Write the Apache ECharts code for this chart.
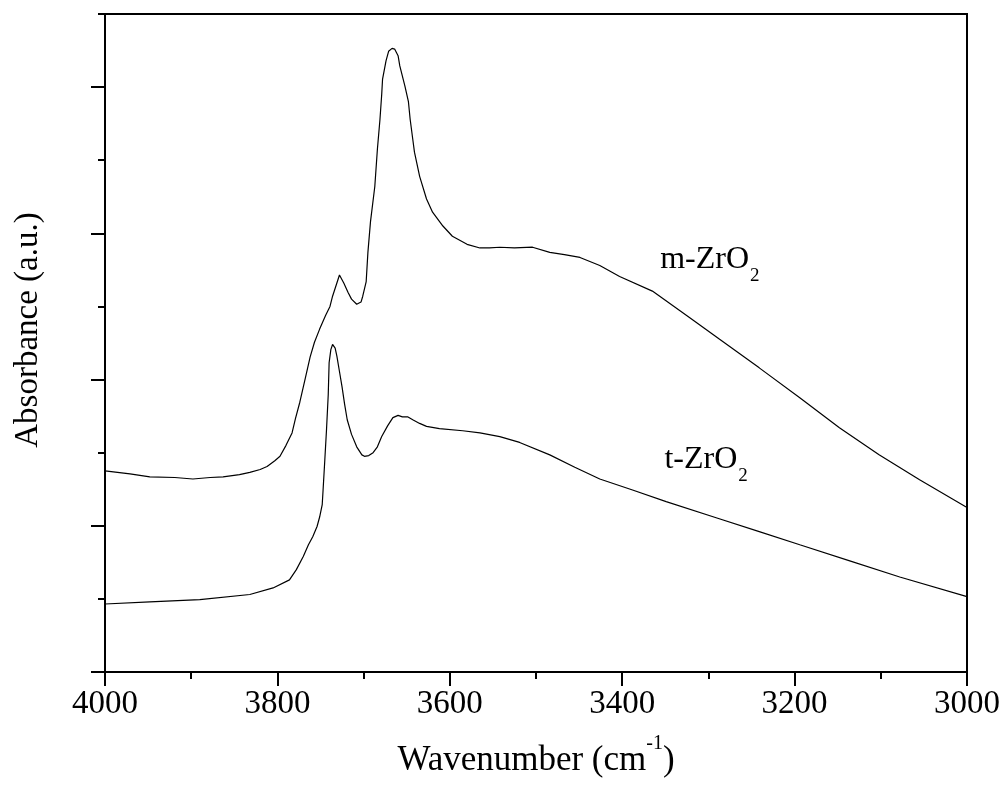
<!DOCTYPE html>
<html>
<head>
<meta charset="utf-8">
<script src="https://cdn.jsdelivr.net/npm/echarts@6/dist/echarts.min.js"></script>
<style>
  html, body { margin: 0; padding: 0; background: #fff; }
  #chart { width: 1005px; height: 791px; }
</style>
</head>
<body>
<div id="chart"></div>
<script>
// IR spectra of surface hydroxyls on monoclinic and tetragonal zirconia
const mWave = [4000, 3971, 3948, 3919, 3898, 3878, 3863, 3844, 3832, 3820, 3812, 3803, 3797, 3790, 3783,
  3779, 3774, 3768, 3762, 3757, 3751, 3744, 3739, 3736, 3731, 3728, 3723, 3718, 3714, 3708, 3703, 3701,
  3697, 3695, 3692, 3687, 3684, 3681, 3679, 3678, 3674, 3671, 3667, 3664, 3660, 3658, 3652, 3648, 3646,
  3643, 3641, 3635, 3627, 3620, 3608, 3597, 3580, 3565, 3554, 3542, 3525, 3504, 3484, 3467, 3449, 3426,
  3403, 3365, 3322, 3287, 3241, 3194, 3148, 3102, 3055, 3000];
const mAbs = [2.75, 2.71, 2.67, 2.66, 2.64, 2.66, 2.67, 2.70, 2.73, 2.77, 2.81, 2.89, 2.95, 3.10, 3.27,
  3.47, 3.69, 4.00, 4.31, 4.51, 4.69, 4.88, 5.00, 5.14, 5.32, 5.43, 5.32, 5.19, 5.10, 5.03, 5.06, 5.14,
  5.34, 5.74, 6.16, 6.64, 7.15, 7.56, 7.90, 8.11, 8.36, 8.49, 8.53, 8.52, 8.43, 8.29, 8.01, 7.80, 7.56,
  7.29, 7.11, 6.78, 6.47, 6.29, 6.10, 5.96, 5.85, 5.80, 5.80, 5.81, 5.80, 5.81, 5.74, 5.71, 5.67, 5.56,
  5.41, 5.21, 4.85, 4.55, 4.16, 3.75, 3.34, 2.97, 2.63, 2.25];

const tWave = [4000, 3948, 3890, 3832, 3805, 3786, 3778, 3770, 3764, 3759, 3754, 3751, 3748, 3747, 3745,
  3743, 3741, 3740, 3738, 3736, 3733, 3731, 3728, 3725, 3722, 3719, 3714, 3708, 3702, 3699, 3694, 3689,
  3684, 3679, 3672, 3666, 3660, 3655, 3649, 3643, 3635, 3627, 3612, 3585, 3565, 3542, 3519, 3484, 3455,
  3426, 3388, 3349, 3291, 3241, 3194, 3136, 3078, 3000];
const tAbs = [0.93, 0.96, 0.99, 1.06, 1.15, 1.26, 1.40, 1.58, 1.74, 1.85, 1.99, 2.12, 2.29, 2.49, 2.90,
  3.32, 3.80, 4.23, 4.41, 4.48, 4.43, 4.32, 4.11, 3.90, 3.66, 3.45, 3.25, 3.08, 2.97, 2.95, 2.96, 3.00,
  3.08, 3.22, 3.37, 3.48, 3.51, 3.49, 3.49, 3.45, 3.40, 3.36, 3.33, 3.30, 3.27, 3.22, 3.14, 2.97, 2.80,
  2.64, 2.49, 2.33, 2.11, 1.92, 1.74, 1.52, 1.30, 1.03];

const xTicks = [3000, 3200, 3400, 3600, 3800, 4000];
const yMajorTicks = [0, 2, 4, 6, 8];
const yMinorTicks = [1, 3, 5, 7, 9];

const serif = "'Liberation Serif', 'Times New Roman', serif";
const zip = (xs, ys) => xs.map((x, i) => [x, ys[i]]);

const chart = echarts.init(document.getElementById('chart'), null, { renderer: 'canvas' });

const seriesLabel = (main, sub) => ({
  show: true,
  position: 'right',
  distance: 0,
  formatter: '{a|' + main + '}{b|' + sub + '}',
  rich: {
    a: { fontFamily: serif, fontSize: 32, color: '#000', lineHeight: 32, verticalAlign: 'top' },
    b: { fontFamily: serif, fontSize: 19, color: '#000', lineHeight: 19, verticalAlign: 'top', padding: [23, 0, 0, 1] }
  }
});

chart.setOption({
  animation: false,
  backgroundColor: '#fff',
  grid: { left: 105, right: 38, top: 14, bottom: 119, show: true, borderColor: '#000', borderWidth: 2 },
  xAxis: {
    type: 'value',
    min: 3000, max: 4000, interval: 200,
    inverse: true,
    name: '{a|Wavenumber (cm}{s|-1}{a|)}',
    nameLocation: 'middle',
    nameGap: 70,
    nameTextStyle: {
      rich: {
        a: { fontFamily: serif, fontSize: 35, color: '#000', lineHeight: 36, verticalAlign: 'bottom' },
        s: { fontFamily: serif, fontSize: 20, color: '#000', lineHeight: 20, verticalAlign: 'bottom', padding: [0, 0, 24, 0] }
      }
    },
    axisLine: { lineStyle: { color: '#000', width: 2 } },
    axisTick: { customValues: xTicks, length: 14, lineStyle: { color: '#000', width: 2 } },
    minorTick: { show: true, splitNumber: 2, length: 7, lineStyle: { color: '#000', width: 2 } },
    axisLabel: {
      customValues: xTicks,
      formatter: (v) => String(v),
      fontFamily: serif, fontSize: 33, color: '#000', margin: 16
    },
    splitLine: { show: false },
    minorSplitLine: { show: false }
  },
  yAxis: [{
    type: 'value',
    min: 0, max: 9, interval: 1,
    name: 'Absorbance (a.u.)',
    nameLocation: 'middle',
    nameGap: 60,
    nameTextStyle: { fontFamily: serif, fontSize: 33, color: '#000', padding: [0, 0, 0, 26] },
    axisLine: { lineStyle: { color: '#000', width: 2 } },
    axisTick: { customValues: yMajorTicks, length: 14, lineStyle: { color: '#000', width: 2 } },
    axisLabel: { show: false },
    splitLine: { show: false }
  }, {
    type: 'value',
    min: 0, max: 9, interval: 1,
    position: 'left',
    axisLine: { show: false },
    axisTick: { customValues: yMinorTicks, length: 7, lineStyle: { color: '#000', width: 2 } },
    axisLabel: { show: false },
    splitLine: { show: false }
  }],
  series: [{
    name: 'm-ZrO2',
    type: 'line',
    data: zip(mWave, mAbs),
    showSymbol: false,
    lineStyle: { color: '#000', width: 1.2 },
    markPoint: {
      symbol: 'circle', symbolSize: 0,
      label: seriesLabel('m-ZrO', '2'),
      data: [{ coord: [3356, 5.64] }]
    }
  }, {
    name: 't-ZrO2',
    type: 'line',
    data: zip(tWave, tAbs),
    showSymbol: false,
    lineStyle: { color: '#000', width: 1.2 },
    markPoint: {
      symbol: 'circle', symbolSize: 0,
      label: seriesLabel('t-ZrO', '2'),
      data: [{ coord: [3351, 2.9] }]
    }
  }]
});
</script>
</body>
</html>
